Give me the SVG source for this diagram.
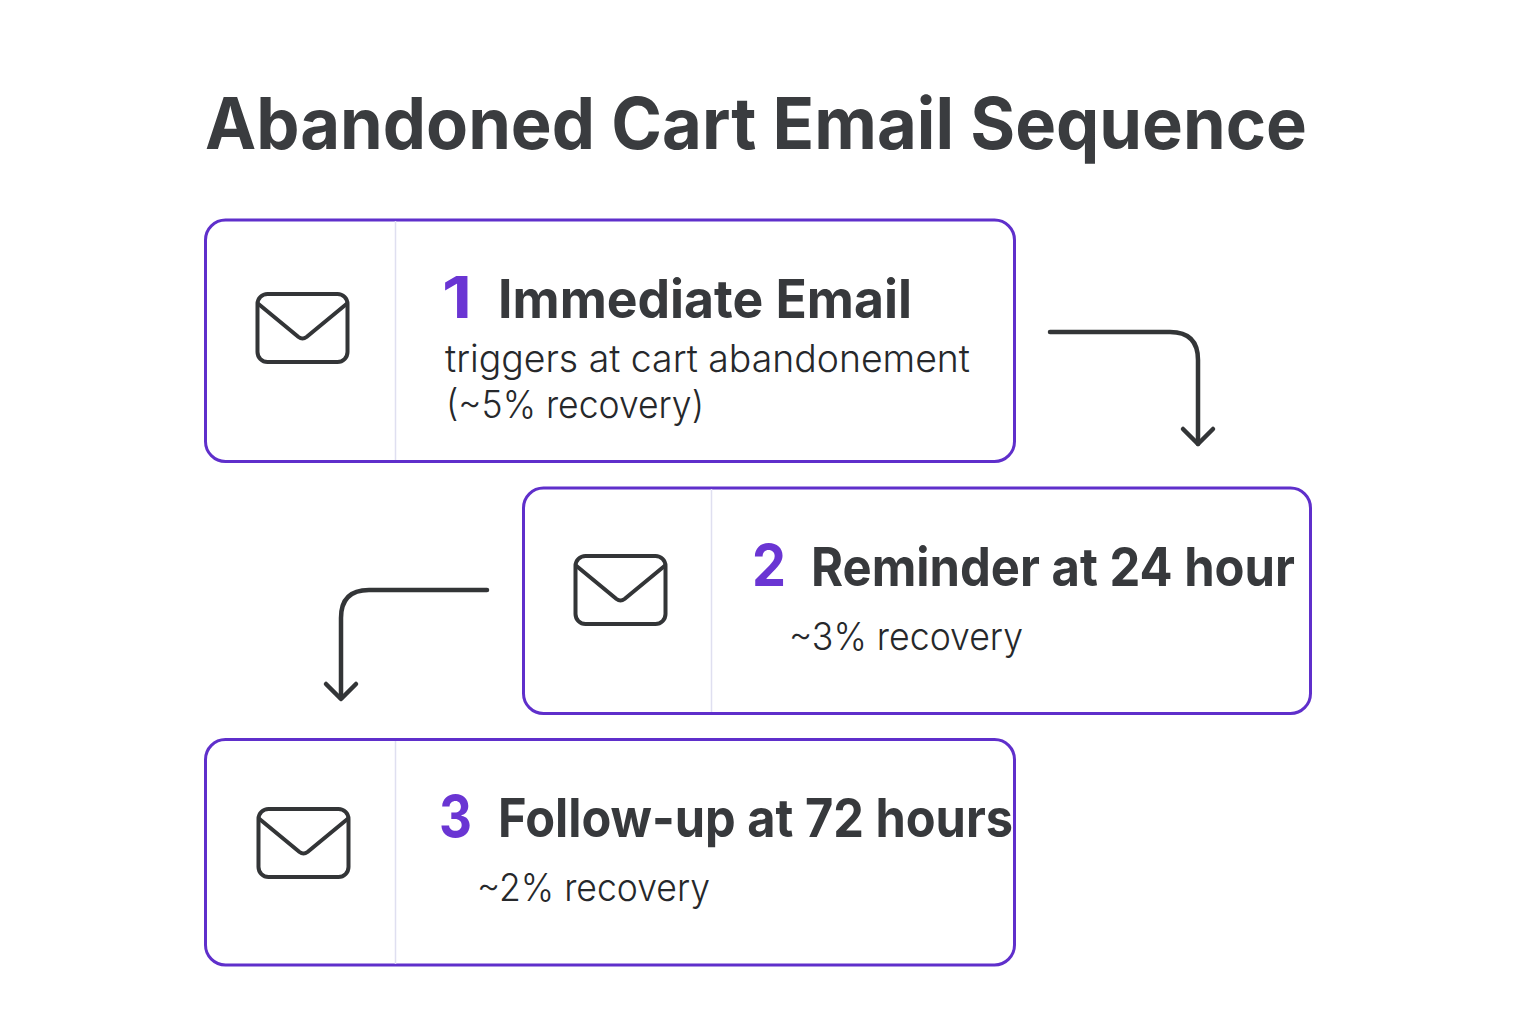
<svg xmlns="http://www.w3.org/2000/svg" width="1536" height="1024" viewBox="0 0 1536 1024">
<defs>
<style>
.box{fill:#fff;stroke:#5f2fcb;stroke-width:3}
.div{stroke:#dfdff0;stroke-width:1.5}
.ic{fill:none;stroke:#333537;stroke-width:4;stroke-linejoin:round;stroke-linecap:round}
.con{fill:none;stroke:#333537;stroke-width:4.500;stroke-linecap:round;stroke-linejoin:round}
text{font-family:Inter,"Liberation Sans",sans-serif;fill:#37393c}
.t{font-weight:700;font-size:53px}
.n{font-weight:700;font-size:58px;fill:#6a35d3}
.s{font-size:37.500px;font-weight:300;fill:#26282b}
</style>
<symbol id="mail" viewBox="0 0 94 72" width="94" height="72" overflow="visible"><rect x="2" y="2" width="90" height="68" rx="10" class="ic"/><path d="M3 12 L43 45 Q47 48 51 45 L91 12" class="ic"/></symbol>
</defs>
<rect width="1536" height="1024" fill="#fff"/>
<text x="205" y="149" font-size="71" font-weight="700" textLength="1102" lengthAdjust="spacingAndGlyphs" style="fill:#3a3c3f">Abandoned Cart Email Sequence</text>
<g id="node1">
<rect class="box" x="205.500" y="220" width="809" height="241.500" rx="20"/><line class="div" x1="395.500" y1="221" x2="395.500" y2="460"/>
<use href="#mail" x="255.500" y="292"/>
<text class="n" x="442" y="318" textLength="30" lengthAdjust="spacingAndGlyphs">1</text><text class="t" x="498" y="318" textLength="414" lengthAdjust="spacingAndGlyphs">Immediate Email</text>
<text class="s" x="445" y="372" textLength="525" lengthAdjust="spacingAndGlyphs">triggers at cart abandonement</text>
<text class="s" x="446" y="418" textLength="258" lengthAdjust="spacingAndGlyphs">(~5% recovery)</text>
</g>
<g id="node2">
<rect class="box" x="523.500" y="488" width="787" height="225.500" rx="20"/><line class="div" x1="711.500" y1="489" x2="711.500" y2="712"/>
<use href="#mail" x="573.500" y="554"/>
<text class="n" x="752" y="586" textLength="34" lengthAdjust="spacingAndGlyphs">2</text><text class="t" x="811" y="586" textLength="484" lengthAdjust="spacingAndGlyphs">Reminder at 24 hour</text>
<text class="s" x="789" y="650" textLength="234" lengthAdjust="spacingAndGlyphs">~3% recovery</text>
</g>
<g id="node3">
<rect class="box" x="205.500" y="739.500" width="809" height="225.500" rx="20"/><line class="div" x1="395.500" y1="741" x2="395.500" y2="964"/>
<use href="#mail" x="256.500" y="807"/>
<text class="n" x="439" y="837" textLength="33" lengthAdjust="spacingAndGlyphs">3</text><text class="t" x="498" y="837" textLength="515" lengthAdjust="spacingAndGlyphs">Follow-up at 72 hours</text>
<text class="s" x="477" y="901" textLength="233" lengthAdjust="spacingAndGlyphs">~2% recovery</text>
</g>
<g id="connectors">
<path class="con" d="M1050 332 H1170 Q1198 332 1198 360 V444"/><path class="con" d="M1183 429 L1198 444 L1213 429"/>
<path class="con" d="M487 590 H369 Q341 590 341 618 V698"/><path class="con" d="M326 684 L341 699 L356 684"/>
</g>
</svg>
